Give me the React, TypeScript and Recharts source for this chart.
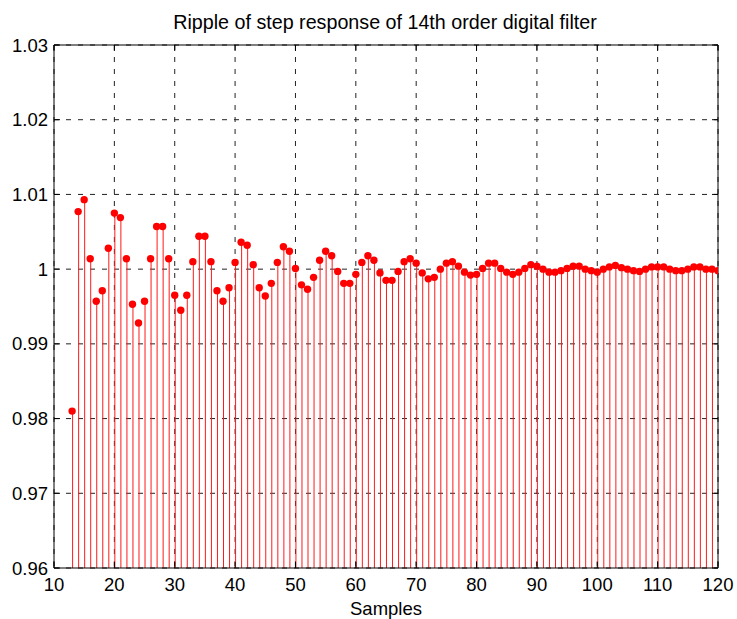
import { Bar, CartesianGrid, ComposedChart, Line, XAxis, YAxis } from 'recharts'

// first sample index of the plotted ripple
const firstSample = 13

// step response values, samples 13..120
const response = [
	0.981, 1.0077, 1.0093, 1.0014, 0.9957, 0.9971, 1.0028, 1.0075, 1.0069, 1.0014,
	0.9953, 0.9928, 0.9957, 1.0014, 1.0057, 1.0057, 1.0014, 0.9965, 0.9945, 0.9965,
	1.001, 1.0044, 1.0044, 1.001, 0.9971, 0.9957, 0.9975, 1.0009, 1.0036, 1.0032,
	1.0006, 0.9975, 0.9964, 0.9981, 1.0009, 1.003, 1.0024, 1.0001, 0.9979, 0.9973,
	0.9989, 1.0012, 1.0024, 1.0018, 0.9997, 0.9981, 0.9981, 0.9993, 1.0009, 1.0018,
	1.0012, 0.9995, 0.9985, 0.9985, 0.9997, 1.001, 1.0014, 1.0008, 0.9995, 0.9987,
	0.9989, 1.0, 1.0008, 1.001, 1.0004, 0.9996, 0.9992, 0.9993, 1.0001, 1.0008,
	1.0008, 1.0001, 0.9996, 0.9993, 0.9996, 1.0001, 1.0006, 1.0004, 1.0, 0.9996,
	0.9996, 0.9998, 1.0001, 1.0004, 1.0004, 1.0, 0.9998, 0.9996, 1.0, 1.0003,
	1.0005, 1.0002, 1.0, 0.9998, 0.9997, 1.0, 1.0003, 1.0003, 1.0003, 1.0,
	0.9998, 0.9998, 1.0, 1.0003, 1.0003, 1.0, 1.0, 0.9998,
]

const xTicks = [10, 20, 30, 40, 50, 60, 70, 80, 90, 100, 110, 120]
const yTicks = [0.96, 0.97, 0.98, 0.99, 1, 1.01, 1.02, 1.03]

const yMin = 0.96

const data = response.map((v, i) => ({
	n: firstSample + i,
	v,
	stem: [yMin, v],
}))

const font = "'Liberation Sans', Arial, Helvetica, sans-serif"
const tickStyle = { fill: '#000', fontSize: 18.5, fontFamily: font }
const line = { stroke: '#000', strokeWidth: 1 }

const fmt = (v: number) => String(Number(v.toFixed(2)))
const blank = () => ''

const App = () => {
	return (
		<div style={{ position: 'absolute', left: 0, top: 0, width: 737, height: 619, background: '#fff' }}>
			<ComposedChart
				width={737}
				height={619}
				data={data}
				margin={{ top: 0, right: 0, bottom: 0, left: 0 }}
			>
				<CartesianGrid stroke='#222' strokeDasharray='5 7' />
				<XAxis
					dataKey='n'
					type='number'
					domain={[10, 120]}
					ticks={xTicks}
					allowDataOverflow
					height={51}
					tick={tickStyle}
					tickSize={-6}
					tickMargin={16}
					tickLine={line}
					axisLine={line}
					label={{
						value: 'Samples',
						position: 'insideBottom',
						offset: 4,
						fill: '#000',
						fontSize: 18.5,
						fontFamily: font,
					}}
				/>
				<XAxis
					xAxisId='top'
					orientation='top'
					dataKey='n'
					type='number'
					domain={[10, 120]}
					ticks={xTicks}
					allowDataOverflow
					height={45}
					tick={tickStyle}
					tickFormatter={blank}
					tickSize={-6}
					tickLine={line}
					axisLine={line}
					label={{
						value: 'Ripple of step response of 14th order digital filter',
						position: 'insideTop',
						offset: 15,
						fill: '#000',
						fontSize: 19.7,
						fontFamily: font,
						dx: -1,
					}}
				/>
				<YAxis
					domain={[0.96, 1.03]}
					ticks={yTicks}
					allowDataOverflow
					width={54}
					tick={tickStyle}
					tickFormatter={fmt}
					tickSize={-6}
					tickMargin={12}
					tickLine={line}
					axisLine={line}
				/>
				<YAxis
					yAxisId='right'
					orientation='right'
					domain={[0.96, 1.03]}
					ticks={yTicks}
					allowDataOverflow
					width={19}
					tick={tickStyle}
					tickFormatter={blank}
					tickSize={-6}
					tickLine={line}
					axisLine={line}
				/>
				<Bar dataKey='stem' fill='#ff1a1a' barSize={1} isAnimationActive={false} />
				<Line
					dataKey='v'
					stroke='none'
					dot={{ r: 3.7, fill: '#ff0000', stroke: 'none' }}
					activeDot={false}
					isAnimationActive={false}
				/>
			</ComposedChart>
		</div>
	)
}

export default App
